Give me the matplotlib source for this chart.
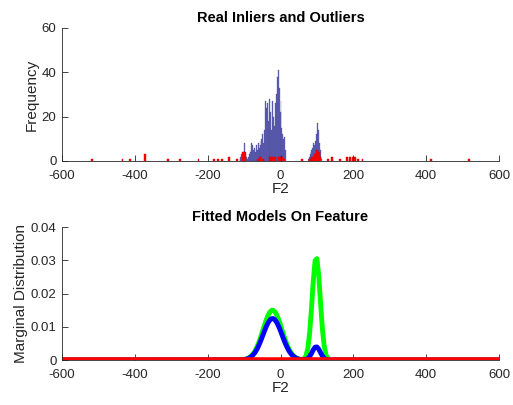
import numpy as np
import matplotlib.pyplot as plt

# HISTOGRAM DATA (feature F2)
inlier_bw = 2.5
inlier_x1 = np.arange(-111.25, 16, 2.5)
inlier_n1 = [1, 2, 3, 2, 4, 8, 3, 2, 1, 2, 3, 5, 4, 8, 7, 5, 6, 4, 7, 5,
             8, 6, 9, 7, 10, 12, 8, 14, 27, 24, 26, 18, 28, 15, 22, 14, 27, 20,
             16, 26, 30, 38, 41, 33, 22, 27, 15, 12, 10, 11, 5]
inlier_x2 = np.arange(76.25, 115, 2.5)
inlier_n2 = [1, 2, 3, 4, 5, 6, 8, 7, 9, 12, 17, 14, 8, 5, 2, 1]

outlier_bw = 5
outlier_x = [-518, -434, -414, -372, -309, -277, -225, -182, -171, -160, -142, -120,
             -102, -97, -62, -57, -48, -30, -25, -20, -15, -5, 0, 5, 10, 58, 80, 85,
             90, 95, 100, 105, 110, 130, 142, 163, 183, 190, 198, 205, 213, 225, 413, 518]
outlier_n = [1, 1, 1, 3, 1, 1, 1, 1, 1, 1, 2, 1,
             4, 4, 1, 2, 1, 2, 2, 2, 2, 2, 2, 2, 1, 1, 1, 2,
             2, 3, 5, 4, 2, 1, 2, 1, 2, 2, 2, 2, 1, 1, 1, 1]

# FITTED MODEL CURVES
fit_x = [-600, -110, -105, -100, -95, -90, -85, -80, -75, -70, -65, -60, -55, -50, -45,
         -40, -35, -30, -25, -20, -15, -10, -5, 0, 5, 10, 15, 20, 25, 30, 35, 40, 45,
         50, 55, 60, 65, 70, 75, 80, 85, 90, 95, 100, 105, 110, 115, 120, 125, 130,
         135, 140, 600]
fit_inlier = [0, .00004, .00008, .00014, .00024, .00041, .00066, .00104, .00157, .00227,
              .00318, .00430, .00559, .00700, .00845, .00984, .01103, .01192, .01242,
              .01246, .01206, .01124, .01009, .00874, .00729, .00586, .00454, .00339,
              .00244, .00169, .00113, .00073, .00045, .00027, .00016, .00010, .00009,
              .00018, .00046, .00105, .00199, .00307, .00385, .00393, .00327, .00221,
              .00121, .00054, .00020, .00006, .00001, 0, 0]
fit_total = [0, .00005, .00009, .00017, .00029, .00049, .00080, .00125, .00188, .00273,
             .00382, .00516, .00670, .00840, .01014, .01180, .01324, .01431, .01490,
             .01496, .01447, .01349, .01211, .01049, .00875, .00704, .00545, .00407,
             .00293, .00203, .00136, .00087, .00054, .00032, .00019, .00018, .00040,
             .00125, .00350, .00813, .01542, .02380, .02987, .03049, .02532, .01710,
             .00939, .00419, .00153, .00045, .00011, .00002, 0]
fit_outlier_x = [-600, 600]
fit_outlier = [0.0001, 0.0001]

xticks = [-600, -400, -200, 0, 200, 400, 600]
yticks_top = [0, 20, 40, 60]
yticks_bot = [0, 0.01, 0.02, 0.03, 0.04]
yticklabels_bot = ["0", "0.01", "0.02", "0.03", "0.04"]

plt.rcParams["font.family"] = ["Liberation Sans", "DejaVu Sans"]
plt.rcParams["axes.unicode_minus"] = False
axis_col = "#262626"

fig = plt.figure(figsize=(5.13, 4.05), dpi=100)
ax1 = fig.add_axes([0.1209, 0.6025, 0.8518, 0.3284])
ax2 = fig.add_axes([0.1209, 0.1111, 0.8518, 0.3284])

# top: inlier / outlier histograms
ax1.bar(inlier_x1, inlier_n1, width=inlier_bw, color="#6666b4", edgecolor="#40409a", linewidth=0.2)
ax1.bar(inlier_x2, inlier_n2, width=inlier_bw, color="#6666b4", edgecolor="#40409a", linewidth=0.2)
ax1.bar(outlier_x, outlier_n, width=outlier_bw, color="#ff0000", edgecolor="#dd0000", linewidth=0.3)
ax1.set_xlim(-600, 600)
ax1.set_ylim(0, 60)
ax1.set_yticks(yticks_top)
ax1.set_title("Real Inliers and Outliers", fontsize=10.5, fontweight="bold", pad=4)
ax1.set_ylabel("Frequency", fontsize=11, color=axis_col, labelpad=2)

# bottom: fitted densities
ax2.plot(fit_x, fit_total, color="#00ff00", linewidth=3.5, solid_capstyle="butt")
ax2.plot(fit_x, fit_inlier, color="#0000ff", linewidth=3.5, solid_capstyle="butt")
ax2.plot(fit_outlier_x, fit_outlier, color="#ff0000", linewidth=4, solid_capstyle="butt")
ax2.set_xlim(-600, 600)
ax2.set_ylim(0, 0.04)
ax2.set_yticks(yticks_bot)
ax2.set_yticklabels(yticklabels_bot)
ax2.set_title("Fitted Models On Feature", fontsize=10.5, fontweight="bold", pad=4)
ax2.set_ylabel("Marginal Distribution", fontsize=11, color=axis_col, labelpad=2)

for ax in (ax1, ax2):
    ax.set_xticks(xticks)
    ax.set_xlabel("F2", fontsize=11, color=axis_col, labelpad=0)
    ax.tick_params(direction="in", length=4, width=0.6, colors=axis_col, labelsize=9.5)
    ax.tick_params(axis="x", pad=6.5)
    ax.tick_params(axis="y", pad=4)
    ax.spines["top"].set_visible(False)
    ax.spines["right"].set_visible(False)
    for s in ("left", "bottom"):
        ax.spines[s].set_color(axis_col)
        ax.spines[s].set_linewidth(0.6)

fig.savefig("out.png", dpi=100)
